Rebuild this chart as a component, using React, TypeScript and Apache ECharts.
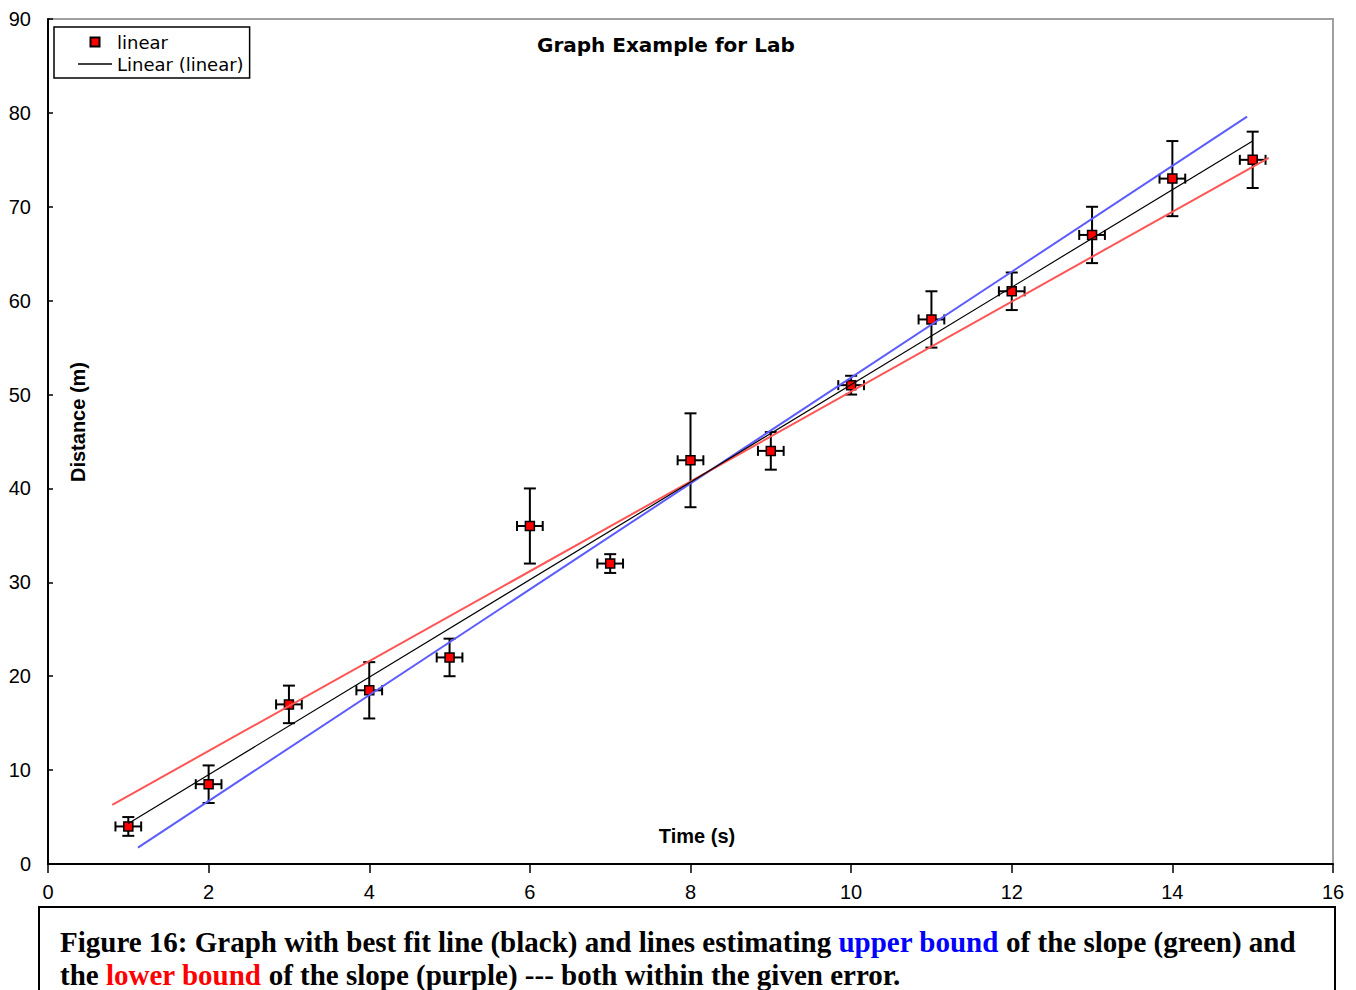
import React, { useEffect, useRef } from "react";
import * as echarts from "echarts";

const timeValues = [1, 2, 3, 4, 5, 6, 7, 8, 9, 10, 11, 12, 13, 14, 15];
const distanceValues = [4, 8.5, 17, 18.5, 22, 36, 32, 43, 44, 51, 58, 61, 67, 73, 75];
const distanceErrors = [1, 2, 2, 3, 2, 4, 1, 5, 2, 1, 3, 2, 3, 4, 3];
const timeErrors = [0.16, 0.16, 0.16, 0.16, 0.16, 0.16, 0.16, 0.16, 0.16, 0.16, 0.16, 0.16, 0.16, 0.16, 0.16];
const upperBoundLine = [
  [1.12, 1.75],
  [14.93, 79.6],
];
const lowerBoundLine = [
  [0.8, 6.3],
  [15.2, 75.2],
];
const xTicks = { min: 0, max: 16, interval: 2 };
const yTicks = { min: 0, max: 90, interval: 10 };

function regression(xs: number[], ys: number[]) {
  const n = xs.length;
  const mx = xs.reduce((a, b) => a + b, 0) / n;
  const my = ys.reduce((a, b) => a + b, 0) / n;
  let sxy = 0;
  let sxx = 0;
  for (let i = 0; i < n; i++) {
    sxy += (xs[i] - mx) * (ys[i] - my);
    sxx += (xs[i] - mx) * (xs[i] - mx);
  }
  const slope = sxy / sxx;
  return { slope, intercept: my - slope * mx };
}

export default function App() {
  const ref = useRef<HTMLDivElement>(null);

  useEffect(() => {
    document.body.style.margin = "0";
    if (!ref.current) return;
    const chart = echarts.init(ref.current, undefined, { renderer: "svg" });

    const fit = regression(timeValues, distanceValues);
    const x0 = timeValues[0];
    const x1 = timeValues[timeValues.length - 1];
    const fitLine = [
      [x0, fit.slope * x0 + fit.intercept],
      [x1, fit.slope * x1 + fit.intercept],
    ];

    const points = timeValues.map((t, i) => [t, distanceValues[i]]);
    const errData = timeValues.map((t, i) => [t, distanceValues[i], distanceErrors[i], timeErrors[i]]);

    const sans = "'Liberation Sans', Arial, sans-serif";
    const serif = "'Liberation Serif', 'Times New Roman', serif";
    const capFont = 29;

    chart.setOption({
      animation: false,
      backgroundColor: "#ffffff",
      title: {
        text: "Graph Example for Lab",
        left: 537,
        top: 35,
        padding: 0,
        textStyle: {
          fontFamily: "'DejaVu Sans', sans-serif",
          fontWeight: "bold",
          fontSize: 20,
          color: "#000",
        },
      },
      legend: {
        orient: "vertical",
        left: 54,
        top: 27,
        align: "left",
        padding: [6, 6, 5, 24],
        itemWidth: 34,
        itemHeight: 9,
        itemGap: 4,
        borderColor: "#000",
        borderWidth: 1.5,
        backgroundColor: "#fff",
        symbolKeepAspect: true,
        data: [
          { name: "linear", icon: "path://M0,0H10V10H0Z" },
          { name: "Linear (linear)", icon: "path://M0,0H34V1.3H0Z" },
        ],
        textStyle: {
          fontFamily: "'DejaVu Sans', sans-serif",
          fontSize: 18,
          lineHeight: 18,
          color: "#000",
        },
      },
      grid: {
        left: 48,
        right: 23,
        top: 19,
        bottom: 126,
        show: true,
        borderColor: "#a0a0a0",
        borderWidth: 2,
        backgroundColor: "#fff",
      },
      xAxis: {
        type: "value",
        min: xTicks.min,
        max: xTicks.max,
        interval: xTicks.interval,
        axisLine: { show: true, lineStyle: { color: "#000", width: 2 } },
        axisTick: { show: true, inside: false, length: 9, lineStyle: { color: "#000", width: 1.5 } },
        axisLabel: { margin: 18, fontFamily: sans, fontSize: 20, color: "#000" },
        splitLine: { show: false },
      },
      yAxis: {
        type: "value",
        min: yTicks.min,
        max: yTicks.max,
        interval: yTicks.interval,
        axisLine: { show: true, lineStyle: { color: "#000", width: 2 } },
        axisTick: { show: true, inside: true, length: 5, lineStyle: { color: "#000", width: 1.5 } },
        axisLabel: { margin: 17, fontFamily: sans, fontSize: 20, color: "#000" },
        splitLine: { show: false },
      },
      series: [
        {
          name: "errors",
          type: "custom",
          z: 2,
          data: errData,
          encode: { x: 0, y: 1 },
          silent: true,
          renderItem: (params: any, api: any) => {
            const x = api.value(0);
            const y = api.value(1);
            const ey = api.value(2);
            const ex = api.value(3);
            const top = api.coord([x, y + ey]);
            const bot = api.coord([x, y - ey]);
            const left = api.coord([x - ex, y]);
            const right = api.coord([x + ex, y]);
            const vc = 6;
            const hc = 5;
            const style = { stroke: "#000", lineWidth: 2, fill: null };
            return {
              type: "group",
              children: [
                { type: "line", shape: { x1: top[0], y1: top[1], x2: bot[0], y2: bot[1] }, style },
                { type: "line", shape: { x1: top[0] - vc, y1: top[1], x2: top[0] + vc, y2: top[1] }, style },
                { type: "line", shape: { x1: bot[0] - vc, y1: bot[1], x2: bot[0] + vc, y2: bot[1] }, style },
                { type: "line", shape: { x1: left[0], y1: left[1], x2: right[0], y2: right[1] }, style },
                { type: "line", shape: { x1: left[0], y1: left[1] - hc, x2: left[0], y2: left[1] + hc }, style },
                { type: "line", shape: { x1: right[0], y1: right[1] - hc, x2: right[0], y2: right[1] + hc }, style },
              ],
            };
          },
        },
        {
          name: "linear",
          type: "scatter",
          z: 3,
          symbol: "rect",
          symbolSize: 9,
          data: points,
          itemStyle: { color: "#ff0000", borderColor: "#000", borderWidth: 1.5, opacity: 1 },
        },
        {
          name: "upper bound",
          type: "line",
          z: 4,
          symbol: "none",
          data: upperBoundLine,
          lineStyle: { color: "#5c5cff", width: 2 },
        },
        {
          name: "lower bound",
          type: "line",
          z: 4,
          symbol: "none",
          data: lowerBoundLine,
          lineStyle: { color: "#ff5555", width: 2 },
        },
        {
          name: "Linear (linear)",
          type: "line",
          z: 5,
          symbol: "none",
          data: fitLine,
          itemStyle: { color: "#000" },
          lineStyle: { color: "#000", width: 1.2 },
        },
      ],
      graphic: [
        {
          type: "text",
          z: 6,
          x: 697,
          y: 836,
          style: {
            text: "Time (s)",
            font: `bold 20px ${sans}`,
            fill: "#000",
            align: "center",
            verticalAlign: "middle",
          },
        },
        {
          type: "text",
          z: 6,
          x: 78,
          y: 422,
          rotation: Math.PI / 2,
          style: {
            text: "Distance (m)",
            font: `bold 20px ${sans}`,
            fill: "#000",
            align: "center",
            verticalAlign: "middle",
          },
        },
        {
          type: "rect",
          z: 10,
          shape: { x: 39, y: 907, width: 1296, height: 110 },
          style: { fill: "#fff", stroke: "#000", lineWidth: 2 },
        },
        {
          type: "text",
          z: 11,
          x: 60,
          y: 942,
          style: {
            text:
              "{n|Figure 16: Graph with best fit line (black) and lines estimating }{b|upper bound}{n| of the slope (green) and}",
            font: `bold ${capFont}px ${serif}`,
            fill: "#000",
            verticalAlign: "middle",
            rich: {
              n: { fill: "#000", fontFamily: serif, fontWeight: "bold", fontSize: capFont },
              b: { fill: "#0000ff", fontFamily: serif, fontWeight: "bold", fontSize: capFont },
            },
          },
        },
        {
          type: "text",
          z: 11,
          x: 60,
          y: 975,
          style: {
            text: "{n|the }{r|lower bound}{n| of the slope (purple) --- both within the given error.}",
            font: `bold ${capFont}px ${serif}`,
            fill: "#000",
            verticalAlign: "middle",
            rich: {
              n: { fill: "#000", fontFamily: serif, fontWeight: "bold", fontSize: capFont },
              r: { fill: "#ff0000", fontFamily: serif, fontWeight: "bold", fontSize: capFont },
            },
          },
        },
      ],
    });

    return () => chart.dispose();
  }, []);

  return <div ref={ref} style={{ width: 1356, height: 990 }} />;
}
